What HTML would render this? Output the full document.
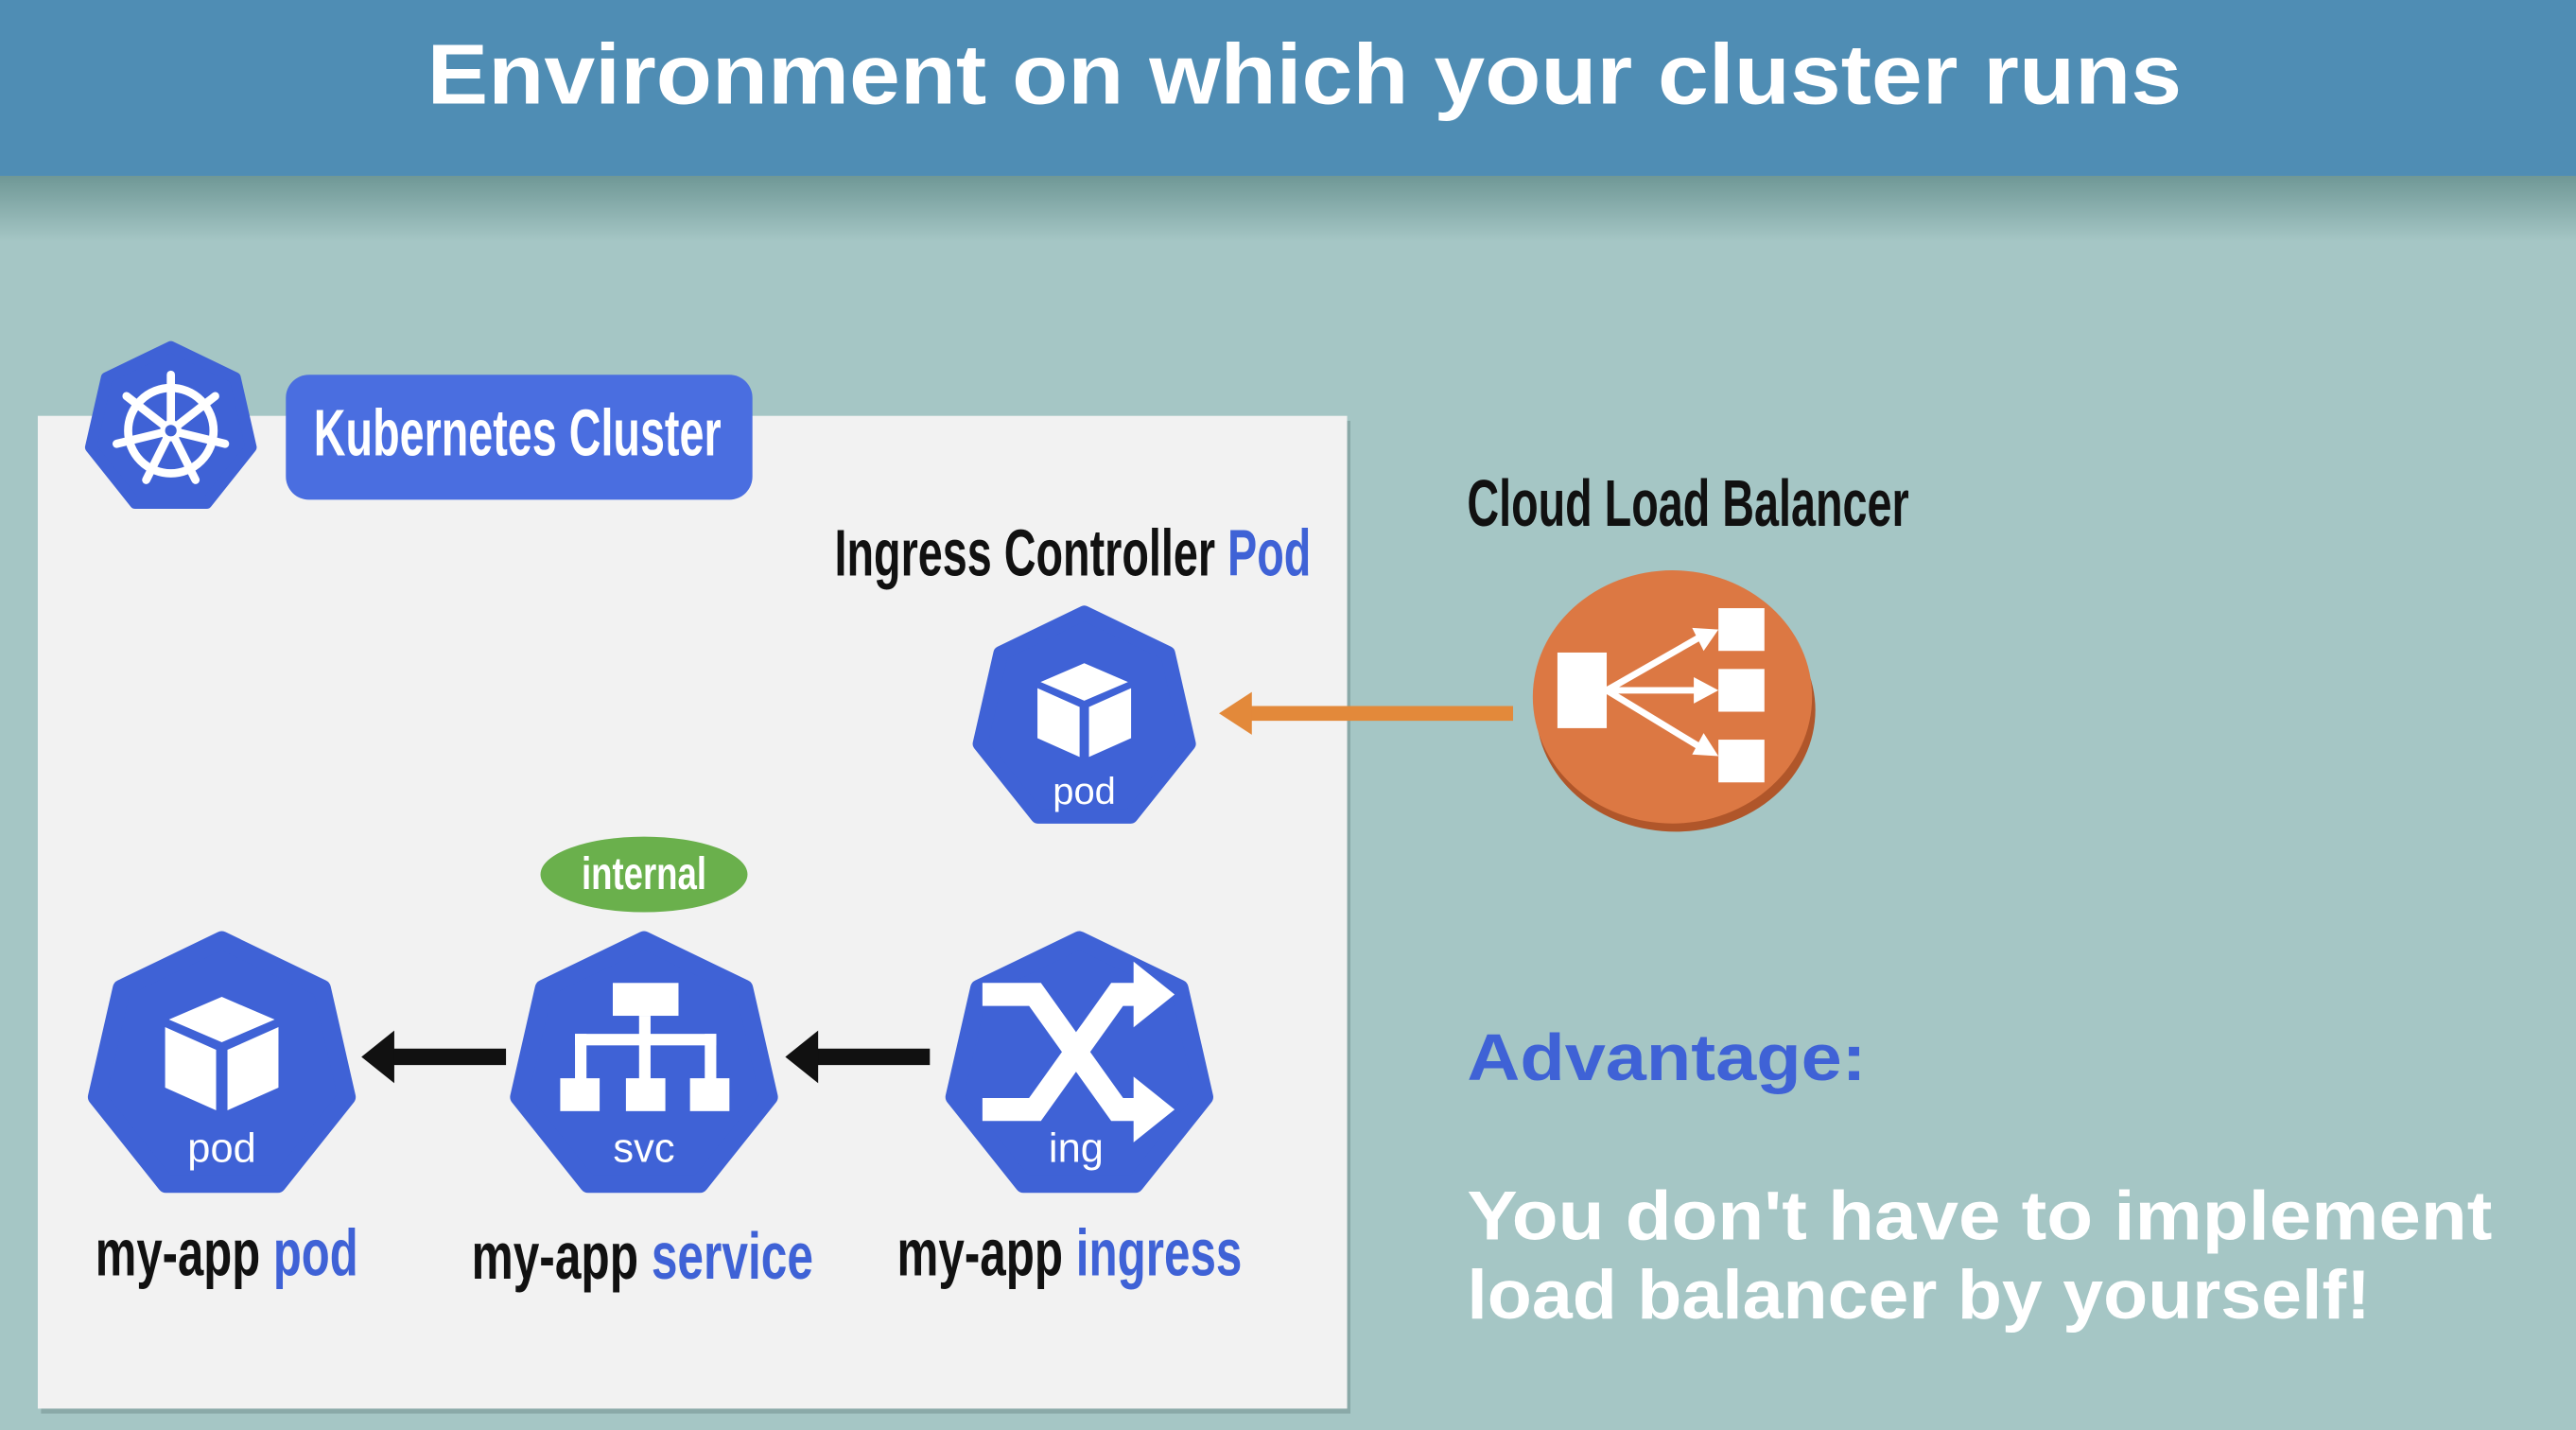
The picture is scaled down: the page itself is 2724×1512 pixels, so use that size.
<!DOCTYPE html>
<html><head><meta charset="utf-8"><style>
html,body{margin:0;padding:0;width:2724px;height:1512px;overflow:hidden;background:#a5c6c5}
svg{display:block}
.c{font-family:"Liberation Sans",sans-serif;font-weight:bold}
</style></head><body>
<svg width="2724" height="1512" viewBox="0 0 1568 870" preserveAspectRatio="none" xmlns="http://www.w3.org/2000/svg">
<defs>
<linearGradient id="sh" x1="0" y1="0" x2="0" y2="1"><stop offset="0" stop-color="#6f9896"/><stop offset="1" stop-color="#a5c6c5"/></linearGradient>
<polygon id="hep" points="0,-1 0.782,-0.623 0.975,0.223 0.434,0.901 -0.434,0.901 -0.975,0.223 -0.782,-0.623" fill="#3f62d6" stroke="#3f62d6" stroke-width="0.14" stroke-linejoin="round"/>
<g id="cube">
<polygon points="0,-30 28,-18 0,-6 -28,-18" fill="#fff"/>
<polygon points="-30,-14 -3,-2 -3,30 -30,18" fill="#fff"/>
<polygon points="30,-14 3,-2 3,30 30,18" fill="#fff"/>
</g>
</defs>
<rect x="0" y="107" width="1568" height="40" fill="url(#sh)"/>
<rect x="0" y="0" width="1568" height="107" fill="#4f8db4"/>
<text x="794" y="63" text-anchor="middle" font-family="Liberation Sans,sans-serif" font-weight="bold" font-size="52" fill="#fff" textLength="1068" lengthAdjust="spacingAndGlyphs">Environment on which your cluster runs</text>

<rect x="25" y="256" width="797" height="604" fill="#8aa9a8"/>
<rect x="23" y="253" width="797" height="604" fill="#f2f2f2"/>

<!-- k8s logo -->
<use href="#hep" transform="translate(104,261) scale(50)"/>
<g stroke="#fff" fill="none" stroke-width="5">
<circle cx="104" cy="262" r="26"/>
</g>
<g stroke="#fff" stroke-width="5" stroke-linecap="round">
<line x1="104" y1="262" x2="104" y2="228"/>
<line x1="104" y1="262" x2="131" y2="241"/>
<line x1="104" y1="262" x2="137" y2="270"/>
<line x1="104" y1="262" x2="119" y2="292"/>
<line x1="104" y1="262" x2="89" y2="292"/>
<line x1="104" y1="262" x2="71" y2="270"/>
<line x1="104" y1="262" x2="77" y2="241"/>
</g>
<circle cx="104" cy="262" r="5" fill="#3f62d6" stroke="#fff" stroke-width="3"/>

<rect x="174" y="228" width="284" height="76" rx="14" fill="#4a6ee0"/>
<text class="c" x="191" y="277" font-size="40" fill="#fff" textLength="248" lengthAdjust="spacingAndGlyphs">Kubernetes Cluster</text>

<text class="c" x="508" y="350" font-size="40" fill="#111" textLength="290" lengthAdjust="spacingAndGlyphs"><tspan>Ingress Controller </tspan><tspan fill="#3f62d6">Pod</tspan></text>

<!-- ingress controller pod -->
<use href="#hep" transform="translate(660,438) scale(65)"/>
<use href="#cube" transform="translate(660,432) scale(0.95)"/>
<text x="660" y="489" text-anchor="middle" font-family="Liberation Sans,sans-serif" font-size="23" fill="#fff">pod</text>

<!-- orange arrow -->
<line x1="921" y1="434" x2="756" y2="434" stroke="#e3893a" stroke-width="9"/>
<polygon points="742,434 762,421 762,447" fill="#e3893a"/>

<text class="c" x="893" y="320" font-size="40" fill="#111" textLength="269" lengthAdjust="spacingAndGlyphs">Cloud Load Balancer</text>

<!-- load balancer -->
<ellipse cx="1020" cy="432" rx="85" ry="74" fill="#b0562a"/>
<ellipse cx="1018" cy="424" rx="85" ry="77" fill="#dc7843"/>
<rect x="948" y="397" width="30" height="46" fill="#fff"/>
<rect x="1046" y="370" width="28" height="26" fill="#fff"/>
<rect x="1046" y="407" width="28" height="26" fill="#fff"/>
<rect x="1046" y="450" width="28" height="26" fill="#fff"/>
<g stroke="#fff" stroke-width="4">
<line x1="978" y1="420" x2="1034" y2="388"/>
<line x1="978" y1="420" x2="1034" y2="420"/>
<line x1="978" y1="420" x2="1034" y2="454"/>
</g>
<polygon points="1046,383 1030,382 1037,396" fill="#fff"/>
<polygon points="1046,420 1031,412 1031,428" fill="#fff"/>
<polygon points="1046,460 1037,446 1030,459" fill="#fff"/>

<!-- internal pill -->
<ellipse cx="392" cy="532" rx="63" ry="23" fill="#6ab04c"/>
<text class="c" x="392" y="541" text-anchor="middle" font-size="28" fill="#fff" textLength="76" lengthAdjust="spacingAndGlyphs">internal</text>

<!-- pod hex -->
<use href="#hep" transform="translate(135,650) scale(78)"/>
<use href="#cube" transform="translate(135,641) scale(1.15)"/>
<text x="135" y="707" text-anchor="middle" font-family="Liberation Sans,sans-serif" font-size="25" fill="#fff">pod</text>

<!-- svc hex -->
<use href="#hep" transform="translate(392,650) scale(78)"/>
<g fill="#fff">
<rect x="373" y="598" width="40" height="20"/>
<rect x="389" y="618" width="7" height="14"/>
<rect x="350" y="629" width="86" height="7"/>
<rect x="350" y="629" width="7" height="30"/>
<rect x="389" y="629" width="7" height="30"/>
<rect x="429" y="629" width="7" height="30"/>
<rect x="341" y="656" width="24" height="20"/>
<rect x="381" y="656" width="24" height="20"/>
<rect x="420" y="656" width="24" height="20"/>
</g>
<text x="392" y="707" text-anchor="middle" font-family="Liberation Sans,sans-serif" font-size="25" fill="#fff">svc</text>

<!-- ing hex -->
<use href="#hep" transform="translate(657,650) scale(78)"/>
<g stroke="#fff" stroke-width="14" fill="none" stroke-linecap="square">
<path d="M605,605 L630,605 L680,675 L695,675"/>
<path d="M605,675 L630,675 L680,605 L695,605"/>
</g>
<polygon points="690,585 715,605 690,625" fill="#fff"/>
<polygon points="690,655 715,675 690,695" fill="#fff"/>
<text x="655" y="707" text-anchor="middle" font-family="Liberation Sans,sans-serif" font-size="25" fill="#fff">ing</text>

<!-- black arrows -->
<line x1="308" y1="643" x2="236" y2="643" stroke="#111" stroke-width="10"/>
<polygon points="220,643 240,627 240,659" fill="#111"/>
<line x1="566" y1="643" x2="494" y2="643" stroke="#111" stroke-width="10"/>
<polygon points="478,643 498,627 498,659" fill="#111"/>

<!-- labels -->
<text class="c" x="58" y="776" font-size="40" fill="#111" textLength="160" lengthAdjust="spacingAndGlyphs">my-app <tspan fill="#3f62d6">pod</tspan></text>
<text class="c" x="287" y="778" font-size="40" fill="#111" textLength="208" lengthAdjust="spacingAndGlyphs">my-app <tspan fill="#3f62d6">service</tspan></text>
<text class="c" x="546" y="776" font-size="40" fill="#111" textLength="210" lengthAdjust="spacingAndGlyphs">my-app <tspan fill="#3f62d6">ingress</tspan></text>

<text x="893" y="657" font-family="Liberation Sans,sans-serif" font-weight="bold" font-size="40" fill="#3f62d6" textLength="243" lengthAdjust="spacingAndGlyphs">Advantage:</text>
<text x="893" y="754" font-family="Liberation Sans,sans-serif" font-weight="bold" font-size="42" fill="#fff" textLength="624" lengthAdjust="spacingAndGlyphs">You don't have to implement</text>
<text x="893" y="802" font-family="Liberation Sans,sans-serif" font-weight="bold" font-size="42" fill="#fff" textLength="550" lengthAdjust="spacingAndGlyphs">load balancer by yourself!</text>
</svg>
</body></html>
